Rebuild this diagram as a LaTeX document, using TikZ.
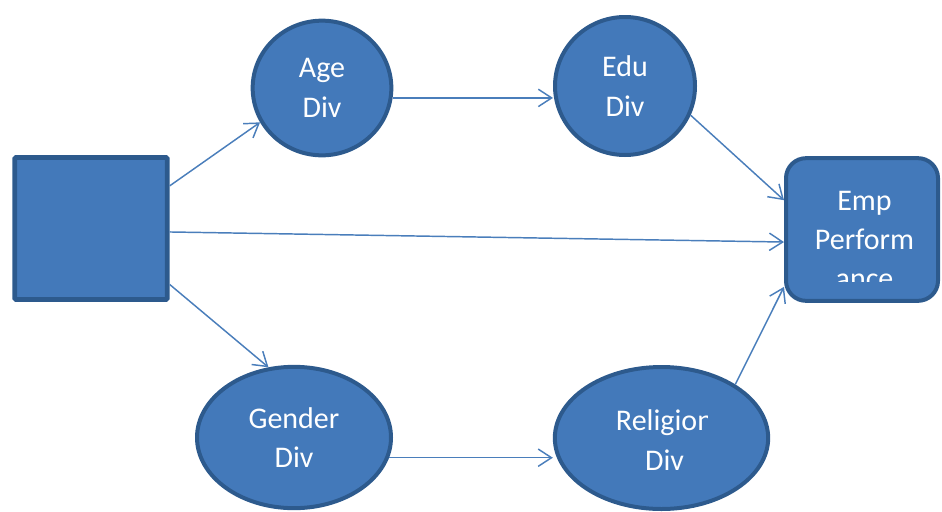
\documentclass[tikz,border=0pt]{standalone}
\usepackage{fontspec}
\setmainfont{Carlito}
\usetikzlibrary{arrows.meta,shapes.geometric}
\definecolor{divfill}{HTML}{4379BA}
\definecolor{divline}{HTML}{2D5A8D}
\definecolor{arrline}{HTML}{4A7EBB}

\begin{document}
\begin{tikzpicture}[x=0.75pt,y=-0.75pt,
    >={Straight Barb[length=10pt,width=13pt]},
    divtext/.style={text=white,align=center,inner sep=0pt,font=\fontsize{22.5}{29.5}\selectfont},
    div/.style={divtext,draw=divline,fill=divfill,line width=3pt,ellipse},
    conn/.style={->,draw=arrline,line width=1.1pt}]
        \useasboundingbox (0,0) rectangle (942,511);
        % boxes
        \node[draw=divline,fill=divfill,line width=3.6pt,rounded corners=1pt,minimum width=114.5pt,minimum height=106.5pt] (src) at (91,228.5) {};
        \node[draw=divline,fill=divfill,line width=3pt,rounded corners=15pt,minimum width=114pt,minimum height=107pt] (emp) at (862,229.5) {};
        \begin{scope}
            \clip (780,150) rectangle (942,281);
            \node[divtext] (emptext) at (864.5,240) {Emp\\Perform\\ance};
        \end{scope}
        % diversity nodes
        \node[div,minimum width=104pt,minimum height=101pt] (age) at (322,88) {Age\\Div};
        \node[div,minimum width=105pt,minimum height=103.5pt] (edu) at (625,86) {Edu\\Div};
        \node[div,minimum width=145.5pt,minimum height=106pt] (gender) at (294,437.5) {Gender\\Div};
        \node[div,minimum width=160pt,minimum height=106.5pt] (religion) at (661.5,438) {};
        \begin{scope}
            \clip (550,360) rectangle (707,511);
            \node[divtext] (reltext) at (664.5,440) {Religion\\Div};
        \end{scope}
        % arrows
        \draw[conn] ([yshift=32pt]src.east) -- (age.209);
        \draw[conn] ([yshift=-2.6pt]src.east) -- ([yshift=-9.4pt]emp.west);
        \draw[conn] ([yshift=-42pt]src.east) -- (gender.110);
        \draw[conn] (age.-8) -- (age.-8 -| edu.west);
        \draw[conn] (edu.-24) -- ([yshift=22pt]emp.west);
        \draw[conn] (gender.-12) -- (gender.-12 -| religion.west);
        \draw[conn] (religion.36) -- ([yshift=-43pt]emp.west);
    \end{tikzpicture}
\end{document}
